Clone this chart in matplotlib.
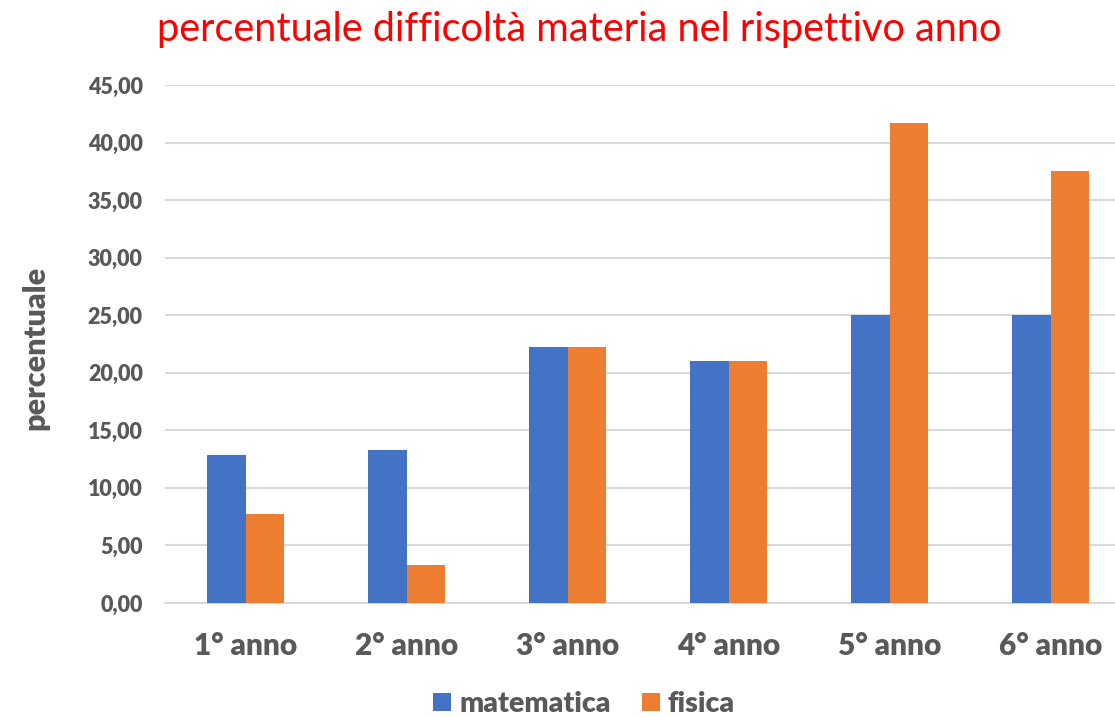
import matplotlib
matplotlib.use("Agg")
import matplotlib.pyplot as plt
import numpy as np
from matplotlib.ticker import FuncFormatter

# dati
anni = ["1° anno", "2° anno", "3° anno", "4° anno", "5° anno", "6° anno"]
matematica = [12.82, 13.33, 22.22, 21.05, 25.00, 25.00]
fisica = [7.69, 3.33, 22.22, 21.05, 41.67, 37.50]

BLU = "#4472C4"
ARANCIO = "#ED7D31"
GRIGIO = "#595959"
FONT = "Lato"

fig = plt.figure(figsize=(11.15, 7.17), dpi=100)
# l'area del grafico sborda a destra come nell'immagine originale
ax = fig.add_axes([165 / 1115, 114 / 717, 966 / 1115, 518 / 717])

x = np.arange(len(anni))
w = 0.24
ax.bar(x - w / 2, matematica, w, color=BLU, label="matematica", zorder=3)
ax.bar(x + w / 2, fisica, w, color=ARANCIO, label="fisica", zorder=3)

ax.set_xlim(-0.5, len(anni) - 0.5)
ax.set_ylim(0, 45)
ax.set_yticks(np.arange(0, 46, 5))
ax.yaxis.set_major_formatter(FuncFormatter(lambda v, p: f"{v:.2f}".replace(".", ",")))
ax.grid(axis="y", color="#D9D9D9", linewidth=1.5, zorder=0)
for s in ["top", "right", "left"]:
    ax.spines[s].set_visible(False)
ax.spines["bottom"].set_color("#D9D9D9")
ax.spines["bottom"].set_linewidth(1.5)
ax.tick_params(length=0)
ax.set_xticks(x)
ax.set_xticklabels(anni, fontsize=21.5, fontweight="heavy", color=GRIGIO, family=FONT)
ax.tick_params(axis="x", pad=21)
ax.tick_params(axis="y", pad=16)
for t in ax.get_yticklabels():
    t.set_fontsize(15.5)
    t.set_fontweight("heavy")
    t.set_color(GRIGIO)
    t.set_family(FONT)

fig.text(35 / 1115, 1 - 348 / 717, "percentuale", rotation=90, ha="center", va="center",
         fontsize=22, fontweight="heavy", color=GRIGIO, family=FONT)
fig.text(579 / 1115, 1 - 30 / 717, "percentuale difficoltà materia nel rispettivo anno",
         ha="center", va="center", fontsize=28.5, color="#FF0000", family=FONT)

leg = fig.legend(loc="center", bbox_to_anchor=(584 / 1115, 1 - 704 / 717), ncol=2, frameon=False,
                 prop={"family": FONT, "weight": "heavy", "size": 20.5},
                 handlelength=0.63, handleheight=0.63, handletextpad=0.27, columnspacing=1.1)
for t in leg.get_texts():
    t.set_color(GRIGIO)

fig.savefig("out.png", dpi=100)
